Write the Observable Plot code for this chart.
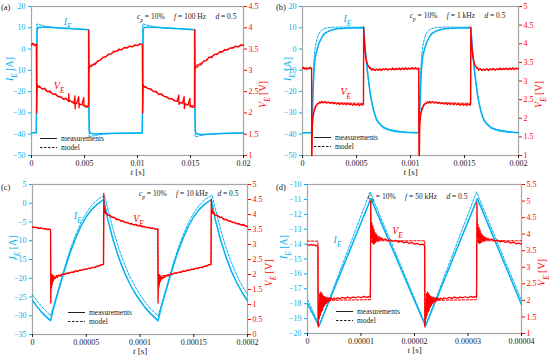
<!DOCTYPE html>
<html><head><meta charset="utf-8">
<script src="https://cdn.jsdelivr.net/npm/d3@7"></script>
<script src="https://cdn.jsdelivr.net/npm/@observablehq/plot@0.6"></script>
<style>
body{margin:0;background:#fff;}
#root{position:relative;width:550px;height:359px;font-family:"Liberation Serif","Times New Roman",serif;overflow:hidden;background:#fff}
#root svg, #root svg text{font-family:"Liberation Serif","Times New Roman",serif !important}
.panel{position:absolute}
.panel > svg{position:absolute;left:0;top:0}
.plabel{position:absolute;font-size:8.5px;color:#222;line-height:10px}
.leg{position:absolute;font-size:7.5px;line-height:9px;color:#222;white-space:nowrap}
.leg svg{margin-right:4px;display:block}
.leg div{height:9px;display:flex;align-items:center}
</style></head><body><div id="root"></div>
<script>
// ---------- tick labels ----------
const aXTicks=[0,0.005,0.01,0.015,0.02];
const bXTicks=[0,0.0005,0.001,0.0015,0.002];
const cXTicks=[0,0.00005,0.0001,0.00015,0.0002];
const dXTicks=[0,0.00001,0.00002,0.00003,0.00004];
const abITicks=[-50,-40,-30,-20,-10,0,10,20];
const cITicks=[-35,-30,-25,-20,-15,-10,-5,0,5];
const dITicks=[-20,-19,-18,-17,-16,-15,-14,-13,-12,-11,-10];
const aVTicks=[1,1.5,2,2.5,3,3.5,4,4.5];
const bVTicks=[1,1.5,2,2.5,3,3.5,4,4.5,5];
const cVTicks=[0,0.5,1,1.5,2,2.5,3,3.5,4,4.5,5];
const dVTicks=[1,1.5,2,2.5,3,3.5,4,4.5,5,5.5];

// ---------- panel (a): time in ms ----------
const aIMeas=[[0,-39.3],[0.44,-39.3],[0.47,-30],[0.5,-20],[0.53,8.5],[0.6,10.1],[1,10.3],[1.5,10.2],[2,10.1],[2.5,9.95],[3,9.8],[3.5,9.65],[4,9.5],[4.5,9.35],[5,9.2],[5.38,9.05],[5.42,-30],[5.46,-38.5],[5.55,-39.6],[6,-39.9],[6.5,-39.8],[7,-39.7],[8,-39.6],[9,-39.5],[10,-39.4],[10.44,-39.4],[10.47,-30],[10.5,-20],[10.53,8.5],[10.6,10.1],[11,10.3],[11.5,10.2],[12,10.1],[12.5,9.95],[13,9.8],[13.5,9.65],[14,9.5],[14.5,9.35],[15,9.2],[15.38,9.05],[15.42,-30],[15.46,-38.5],[15.55,-39.7],[16,-40.1],[16.5,-40],[17,-39.9],[18,-39.7],[19,-39.5],[20,-39.4]];
const aIModel=[[0,-39.3],[0.46,-39.3],[0.5,11.8],[0.8,11.4],[1.2,10.9],[1.6,10.5],[2,10.25],[3,9.9],[4,9.6],[5,9.3],[5.4,9.2],[5.44,-41.2],[5.8,-40.8],[6.3,-40.3],[7,-39.9],[8,-39.6],[9,-39.5],[10.46,-39.4],[10.5,11.8],[10.8,11.4],[11.2,10.9],[11.6,10.5],[12,10.25],[13,9.9],[14,9.6],[15,9.3],[15.4,9.2],[15.44,-41.2],[15.8,-40.8],[16.3,-40.3],[17,-39.9],[18,-39.6],[19,-39.5],[20,-39.4]];
const aVMeas=[[0,3.6],[0.15,3.64],[0.3,3.58],[0.45,3.62],[0.49,2.0],[0.51,2.3],[0.53,2.68],[0.6,2.62],[0.75,2.63],[1.0,2.56],[1.25,2.58],[1.5,2.5],[1.75,2.52],[2.0,2.44],[2.25,2.45],[2.5,2.38],[2.75,2.39],[3.0,2.32],[3.25,2.35],[3.5,2.27],[3.52,2.45],[3.55,2.28],[3.75,2.27],[4.0,2.22],[4.1,2.4],[4.12,2.1],[4.15,2.23],[4.25,2.22],[4.46,2.38],[4.48,2.12],[4.5,2.2],[4.75,2.19],[4.93,2.36],[4.95,2.16],[5.0,2.17],[5.2,2.13],[5.37,2.16],[5.4,3.95],[5.42,3.0],[5.45,3.09],[5.6,3.08],[5.8,3.13],[6.0,3.14],[6.25,3.22],[6.5,3.24],[6.75,3.31],[7.0,3.31],[7.25,3.38],[7.5,3.38],[7.75,3.45],[8.0,3.44],[8.25,3.5],[8.5,3.48],[8.75,3.54],[9.0,3.52],[9.25,3.57],[9.5,3.55],[9.75,3.6],[10.0,3.58],[10.25,3.63],[10.45,3.6],[10.49,2.0],[10.51,2.3],[10.53,2.67],[10.6,2.62],[10.75,2.62],[11.0,2.57],[11.25,2.57],[11.5,2.5],[11.75,2.51],[12.0,2.43],[12.25,2.45],[12.5,2.39],[12.75,2.38],[13.0,2.33],[13.25,2.34],[13.5,2.28],[13.75,2.29],[13.9,2.42],[13.92,2.2],[14.0,2.24],[14.25,2.23],[14.4,2.38],[14.42,2.1],[14.5,2.21],[14.75,2.18],[14.95,2.34],[14.97,2.14],[15.0,2.17],[15.2,2.13],[15.37,2.15],[15.4,3.95],[15.42,3.0],[15.45,3.08],[15.6,3.07],[15.8,3.13],[16.0,3.13],[16.25,3.22],[16.5,3.23],[16.75,3.31],[17.0,3.3],[17.25,3.38],[17.5,3.37],[17.75,3.44],[18.0,3.43],[18.25,3.49],[18.5,3.48],[18.75,3.53],[19.0,3.52],[19.25,3.57],[19.5,3.55],[19.75,3.6],[20,3.59]];
const aVModel=[[0,3.6],[0.48,3.61],[0.5,2.62],[1,2.57],[2,2.45],[3,2.34],[4,2.25],[5,2.18],[5.4,2.16],[5.42,3.1],[6,3.17],[7,3.33],[8,3.45],[9,3.54],[10,3.59],[10.48,3.61],[10.5,2.62],[11,2.57],[12,2.45],[13,2.34],[14,2.25],[15,2.18],[15.4,2.16],[15.42,3.1],[16,3.17],[17,3.33],[18,3.45],[19,3.54],[20,3.59]];

// ---------- panel (b): time in µs ----------
const bIMeas=[[0,-39.3],[84,-39.3],[88,-34],[95,-25],[102,-15],[109,-8.5],[120,-3.2],[133,-0.7],[148,2],[164,4],[182,5.8],[202,7.2],[230,8.1],[257,8.7],[290,9.2],[319,9.5],[400,9.8],[480,9.95],[566,10.0],[574,5],[582,-0.7],[590,-4.8],[597,-8.5],[605,-11.8],[612,-14.8],[620,-18],[628,-21],[643,-25.3],[659,-28.8],[675,-31.4],[690,-33.4],[720,-35.4],[752,-36.8],[800,-37.8],[845,-38.3],[910,-38.8],[968,-39.1],[1078,-39.3],[1082,-34],[1089,-25],[1096,-15],[1103,-8.5],[1114,-3.2],[1127,-0.7],[1142,2],[1158,4],[1176,5.8],[1196,7.2],[1224,8.1],[1251,8.7],[1284,9.2],[1313,9.5],[1394,9.8],[1474,9.95],[1558,10.0],[1566,5],[1574,-0.7],[1582,-4.8],[1589,-8.5],[1597,-11.8],[1604,-14.8],[1612,-18],[1620,-21],[1635,-25.3],[1651,-28.8],[1667,-31.4],[1682,-33.4],[1712,-35.4],[1744,-36.8],[1792,-37.8],[1837,-38.3],[1902,-38.8],[1960,-39.1],[2000,-39.2]];
const bIModel=[[0,-39.3],[84,-39.3],[88,-30],[95,-18],[102,-9],[109,-3.5],[120,1.5],[133,4.5],[148,6.8],[164,8.2],[182,9.1],[202,9.6],[230,10.0],[257,10.2],[320,10.3],[566,10.3],[574,5],[582,-1],[597,-9],[612,-15.5],[628,-21.8],[659,-29.5],[690,-34],[752,-37.3],[845,-38.8],[968,-39.3],[1078,-39.4],[1082,-30],[1089,-18],[1096,-9],[1103,-3.5],[1114,1.5],[1127,4.5],[1142,6.8],[1158,8.2],[1176,9.1],[1196,9.6],[1224,10.0],[1251,10.2],[1314,10.3],[1558,10.3],[1566,5],[1574,-1],[1589,-9],[1604,-15.5],[1620,-21.8],[1651,-29.5],[1682,-34],[1744,-37.3],[1837,-38.8],[1960,-39.3],[2000,-39.4]];
const bVMeas=[[0,3.34],[10,3.37],[20,3.32],[30,3.36],[40,3.31],[50,3.35],[60,3.33],[70,3.37],[80,3.33],[84,3.35],[85,1.0],[88,1.0],[92,1.8],[98,2.03],[105,2.15],[112,2.22],[118,2.27],[126,2.33],[134,2.36],[142,2.4],[150,2.39],[160,2.44],[170,2.41],[180,2.45],[195,2.42],[210,2.45],[225,2.41],[240,2.44],[255,2.4],[270,2.43],[285,2.39],[300,2.42],[315,2.38],[330,2.41],[345,2.37],[360,2.41],[375,2.37],[390,2.4],[405,2.36],[420,2.4],[435,2.36],[450,2.39],[465,2.35],[480,2.39],[495,2.35],[510,2.38],[525,2.34],[540,2.38],[555,2.35],[564,2.37],[566,4.45],[570,4.2],[575,3.95],[582,3.73],[590,3.58],[597,3.5],[605,3.42],[613,3.39],[620,3.34],[628,3.36],[640,3.29],[655,3.33],[670,3.28],[685,3.32],[700,3.29],[715,3.33],[730,3.28],[745,3.33],[760,3.3],[775,3.34],[790,3.29],[805,3.33],[820,3.3],[835,3.35],[850,3.3],[865,3.34],[880,3.31],[895,3.35],[910,3.3],[925,3.35],[940,3.31],[955,3.36],[970,3.31],[985,3.35],[1000,3.32],[1015,3.36],[1030,3.32],[1045,3.36],[1060,3.32],[1076,3.35],[1078,1.0],[1082,1.0],[1086,1.8],[1092,2.03],[1099,2.15],[1106,2.22],[1112,2.27],[1120,2.33],[1128,2.36],[1136,2.4],[1145,2.39],[1155,2.44],[1165,2.41],[1175,2.45],[1190,2.42],[1205,2.45],[1220,2.41],[1235,2.44],[1250,2.4],[1265,2.43],[1280,2.39],[1295,2.42],[1310,2.38],[1325,2.41],[1340,2.37],[1355,2.41],[1370,2.37],[1385,2.4],[1400,2.36],[1415,2.4],[1430,2.36],[1445,2.39],[1460,2.35],[1475,2.39],[1490,2.35],[1505,2.38],[1520,2.34],[1535,2.38],[1550,2.35],[1556,2.37],[1558,4.45],[1562,4.2],[1567,3.95],[1574,3.73],[1582,3.58],[1589,3.5],[1597,3.42],[1605,3.39],[1612,3.34],[1620,3.36],[1632,3.29],[1647,3.33],[1662,3.28],[1677,3.32],[1692,3.29],[1707,3.33],[1722,3.28],[1737,3.33],[1752,3.3],[1767,3.34],[1782,3.29],[1797,3.33],[1812,3.3],[1827,3.35],[1842,3.3],[1857,3.34],[1872,3.31],[1887,3.35],[1902,3.3],[1917,3.35],[1932,3.31],[1947,3.36],[1962,3.31],[1977,3.35],[1990,3.32],[2000,3.34]];
const bVModel=[[0,3.33],[84,3.33],[86,1.6],[95,2.05],[110,2.28],[130,2.38],[160,2.42],[566,2.4],[567,4.2],[580,3.75],[600,3.45],[630,3.33],[680,3.3],[1078,3.33],[1080,1.6],[1089,2.05],[1104,2.28],[1124,2.38],[1154,2.42],[1558,2.4],[1559,4.2],[1572,3.75],[1592,3.45],[1622,3.33],[1672,3.3],[2000,3.33]];

// ---------- panel (c): time in µs ----------
const cIMeas=[[0,-25.9],[4,-27.5],[8,-28.9],[12,-30.1],[16.8,-31.3],[20,-27.5],[25,-22.5],[30,-17.6],[35,-13.2],[40,-9.4],[45,-6.2],[50,-3.6],[55,-1.7],[60,-0.3],[66.3,1.0],[70,-4.3],[75,-9.8],[80,-14.3],[85,-18.1],[90,-21.2],[95,-23.8],[100,-26.0],[105,-27.9],[110,-29.5],[116.8,-31.3],[120,-27.5],[125,-22.5],[130,-17.6],[135,-13.2],[140,-9.4],[145,-6.2],[150,-3.6],[155,-1.7],[160,-0.3],[166.3,1.0],[170,-4.3],[175,-9.8],[180,-14.3],[185,-18.1],[190,-21.2],[195,-23.8],[200,-26.0]];
const cIModel=[[0,-24.4],[4,-26],[8,-27.4],[12,-28.6],[16.8,-30],[20,-27],[25,-22],[30,-17],[35,-12.4],[40,-8.6],[45,-5.2],[50,-2.6],[55,-0.6],[60,0.9],[67,2.1],[70,-1.5],[75,-7],[80,-11.8],[85,-15.8],[90,-19.2],[95,-22],[100,-24.4],[105,-26.4],[110,-28.2],[116.8,-30],[120,-27],[125,-22],[130,-17],[135,-12.4],[140,-8.6],[145,-5.2],[150,-2.6],[155,-0.6],[160,0.9],[167,2.1],[170,-1.5],[175,-7],[180,-11.8],[185,-15.8],[190,-19.2],[195,-22],[200,-24.4]];
const cVMeas=[[0,3.58],[2,3.56],[4,3.57],[6,3.54],[8,3.55],[10,3.52],[12,3.53],[14,3.5],[16,3.51],[16.8,3.49],[17,1.05],[17.3,1.9],[17.6,1.55],[17.9,2.0],[18.2,1.65],[18.5,1.98],[18.8,1.75],[19.1,1.95],[19.5,1.8],[20,1.92],[21,1.86],[22,1.93],[23,1.9],[24,1.96],[26,1.95],[28,2.01],[30,2.0],[32,2.05],[34,2.04],[36,2.08],[38,2.07],[40,2.12],[42,2.1],[44,2.15],[46,2.14],[48,2.18],[50,2.17],[52,2.21],[54,2.2],[56,2.24],[58,2.23],[60,2.28],[62,2.28],[64,2.33],[66,2.33],[66.3,4.7],[66.6,4.05],[66.9,4.25],[67.2,4.05],[67.6,4.15],[68,4.03],[69,4.05],[70,3.97],[72,3.98],[74,3.9],[76,3.91],[78,3.83],[80,3.84],[82,3.78],[84,3.79],[86,3.73],[88,3.74],[90,3.69],[92,3.7],[94,3.65],[96,3.67],[98,3.62],[100,3.63],[102,3.59],[104,3.6],[106,3.56],[108,3.57],[110,3.54],[112,3.55],[114,3.51],[116.5,3.52],[116.8,1.05],[117.1,1.9],[117.4,1.55],[117.7,2.0],[118,1.65],[118.3,1.98],[118.6,1.75],[118.9,1.95],[119.3,1.8],[120,1.92],[121,1.86],[122,1.93],[123,1.9],[124,1.96],[126,1.95],[128,2.01],[130,2.0],[132,2.05],[134,2.04],[136,2.08],[138,2.07],[140,2.12],[142,2.1],[144,2.15],[146,2.14],[148,2.18],[150,2.17],[152,2.21],[154,2.2],[156,2.24],[158,2.23],[160,2.28],[162,2.28],[164,2.33],[166,2.33],[166.3,4.5],[166.6,4.05],[166.9,4.2],[167.2,4.05],[167.6,4.13],[168,4.03],[169,4.05],[170,3.97],[172,3.98],[174,3.9],[176,3.91],[178,3.83],[180,3.84],[182,3.78],[184,3.79],[186,3.73],[188,3.74],[190,3.69],[192,3.7],[194,3.65],[196,3.67],[198,3.62],[200,3.6]];
const cVModel=[[0,3.58],[16.8,3.5],[17,1.9],[20,1.95],[30,2.02],[40,2.1],[50,2.18],[60,2.27],[66.2,2.34],[66.4,4.1],[70,3.98],[80,3.83],[90,3.7],[100,3.62],[110,3.55],[116.7,3.5],[116.9,1.9],[120,1.95],[130,2.02],[140,2.1],[150,2.18],[160,2.27],[166.2,2.34],[166.4,4.1],[170,3.98],[180,3.83],[190,3.7],[200,3.6]];

// ---------- panel (d): time in µs ----------
const dIMeas=[[0,-18.0],[2.15,-19.5],[11.85,-10.95],[22.05,-19.5],[31.75,-10.95],[40,-18.05]];
const dIModel=[[0,-17.7],[2.2,-19.45],[11.7,-10.5],[22.1,-19.45],[31.6,-10.5],[40,-17.8]];
const dVMeas=[[0,3.68],[0.3,3.66],[0.6,3.69],[0.9,3.67],[1.2,3.68],[1.5,3.65],[1.8,3.66],[1.95,3.62],[2.0,1.2],[2.1,1.75],[2.2,1.45],[2.3,2.2],[2.4,1.55],[2.5,2.25],[2.6,1.65],[2.7,2.2],[2.8,1.7],[2.9,2.15],[3.0,1.8],[3.1,2.12],[3.2,1.85],[3.35,2.1],[3.5,1.9],[3.65,2.1],[3.8,1.95],[4.0,2.08],[4.2,1.98],[4.4,2.08],[4.7,2.02],[5.0,2.07],[5.3,2.03],[5.6,2.08],[6,2.05],[6.5,2.09],[7,2.06],[7.5,2.1],[8,2.07],[8.5,2.1],[9,2.08],[9.5,2.11],[10,2.08],[10.5,2.12],[11,2.09],[11.5,2.12],[11.75,2.1],[11.82,5.0],[11.9,3.9],[12.0,4.35],[12.1,3.75],[12.2,4.25],[12.3,3.7],[12.4,4.15],[12.5,3.72],[12.6,4.05],[12.7,3.75],[12.85,4.0],[13.0,3.78],[13.15,3.95],[13.3,3.8],[13.5,3.92],[13.7,3.82],[13.9,3.88],[14.2,3.82],[14.5,3.86],[15,3.8],[15.5,3.83],[16,3.78],[16.5,3.81],[17,3.76],[17.5,3.79],[18,3.74],[18.5,3.77],[19,3.72],[19.5,3.75],[20,3.7],[20.5,3.72],[21,3.68],[21.5,3.7],[21.9,3.64],[21.95,1.2],[22.05,1.75],[22.15,1.45],[22.25,2.2],[22.35,1.55],[22.45,2.25],[22.55,1.65],[22.65,2.2],[22.75,1.7],[22.85,2.15],[22.95,1.8],[23.05,2.12],[23.15,1.85],[23.3,2.1],[23.45,1.9],[23.6,2.1],[23.75,1.95],[23.95,2.08],[24.15,1.98],[24.35,2.08],[24.65,2.02],[24.95,2.07],[25.25,2.03],[25.55,2.08],[26,2.05],[26.5,2.09],[27,2.06],[27.5,2.1],[28,2.07],[28.5,2.1],[29,2.08],[29.5,2.11],[30,2.08],[30.5,2.12],[31,2.09],[31.4,2.12],[31.6,2.1],[31.67,4.95],[31.75,3.9],[31.85,4.3],[31.95,3.75],[32.05,4.2],[32.15,3.72],[32.25,4.12],[32.35,3.74],[32.45,4.03],[32.55,3.76],[32.7,3.98],[32.85,3.79],[33,3.93],[33.15,3.8],[33.35,3.9],[33.55,3.82],[33.75,3.87],[34.05,3.82],[34.35,3.85],[35,3.8],[35.5,3.82],[36,3.77],[36.5,3.8],[37,3.75],[37.5,3.78],[38,3.73],[38.5,3.76],[39,3.71],[39.5,3.73],[40,3.7]];
const dVModel=[[0,3.79],[1.95,3.79],[2.0,1.25],[2.3,2.0],[11.75,2.02],[11.8,3.8],[21.9,3.8],[21.95,1.25],[22.25,2.0],[31.6,2.02],[31.65,3.8],[40,3.8]];

// ---------- drawing ----------
const BLUE="#00B0F0", RED="#FF0000", FRAME="#A6A6A6", INK="#222";
const FF="Liberation Serif";
const root=document.getElementById("root");
const signed=d=>d<0?"\u2212"+(-d):String(d);

function rich(svg){
  for(const t of svg.querySelectorAll("text")){
    const s=t.textContent;
    if(!/[~_]/.test(s)) continue;
    while(t.firstChild) t.removeChild(t.firstChild);
    let buf="";
    const flush=()=>{if(buf){t.appendChild(document.createTextNode(buf));buf="";}};
    for(let k=0;k<s.length;k++){
      const c=s[k];
      if(c==="~"||c==="_"){
        flush();
        const ts=document.createElementNS("http://www.w3.org/2000/svg","tspan");
        ts.setAttribute("font-style","italic");
        if(c==="_"){ts.setAttribute("baseline-shift","sub");ts.setAttribute("font-size","72%");}
        ts.textContent=s[++k];
        t.appendChild(ts);
      } else buf+=c;
    }
    flush();
  }
}

function panel(c){
  const div=document.createElement("div");
  div.className="panel";
  Object.assign(div.style,{left:c.left+"px",top:c.top+"px",width:c.w+"px",height:c.h+"px"});
  root.appendChild(div);
  const common={width:c.w,height:c.h,marginLeft:c.m[0],marginRight:c.m[1],marginTop:c.m[2],marginBottom:c.m[3],
    style:"font-family:'Liberation Serif',serif;font-size:8px;background:transparent;overflow:visible"};
  const X=d=>d[0]*c.unit, Y=d=>d[1];
  const pI=Plot.plot({...common,
    x:{domain:c.xDomain}, y:{domain:c.iDomain},
    marks:[
      Plot.frame({stroke:FRAME,strokeWidth:1.2}),
      Plot.axisY({ticks:c.iTicks,tickFormat:signed,tickSize:3,tickPadding:3,color:BLUE,label:null,fontSize:8,fontFamily:FF}),
      Plot.axisX({ticks:c.xTicks,tickFormat:d=>String(d),tickSize:3,tickPadding:1.5,color:INK,label:null,fontSize:8,fontFamily:FF}),
      Plot.line(c.iModel,{x:X,y:Y,stroke:BLUE,strokeWidth:1,strokeDasharray:"2.5,1.5"}),
      Plot.line(c.iMeas,{x:X,y:Y,stroke:BLUE,strokeWidth:1.5}),
      Plot.text(["~I_E [A]"],{frameAnchor:"left",dx:c.tdx[0],rotate:-90,fill:BLUE,fontSize:10,fontFamily:FF}),
      Plot.text(["~t [s]"],{frameAnchor:"bottom",dy:c.tdy,fill:INK,fontSize:9,fontFamily:FF}),
      Plot.text(["~I_E"],{x:c.iLab[0],y:c.iLab[1],fill:BLUE,fontSize:10,fontFamily:FF}),
      Plot.text([c.ann],{frameAnchor:"top-right",textAnchor:"end",dx:c.annD[0],dy:c.annD[1],fill:INK,fontSize:7.5,fontFamily:FF})
    ]});
  const pV=Plot.plot({...common,
    x:{domain:c.xDomain,axis:null}, y:{domain:c.vDomain},
    marks:[
      Plot.axisY({anchor:"right",ticks:c.vTicks,tickFormat:d=>String(d),tickSize:3,tickPadding:2,color:RED,label:null,fontSize:8,fontFamily:FF}),
      Plot.line(c.vModel,{x:X,y:Y,stroke:RED,strokeWidth:1,strokeDasharray:"2.5,1.5"}),
      Plot.line(c.vMeas,{x:X,y:Y,stroke:RED,strokeWidth:1.3}),
      Plot.text(["~V_E [V]"],{frameAnchor:"right",dx:c.tdx[1],rotate:-90,fill:RED,fontSize:10,fontFamily:FF}),
      Plot.text(["~V_E"],{x:c.vLab[0],y:c.vLab[1],fill:RED,fontSize:10,fontFamily:FF})
    ]});
  rich(pI); rich(pV);
  div.appendChild(pI); div.appendChild(pV);
  const lab=document.createElement("div");
  lab.className="plabel"; lab.textContent=c.label;
  lab.style.left=c.labPos[0]+"px"; lab.style.top=c.labPos[1]+"px";
  div.appendChild(lab);
  const leg=document.createElement("div");
  leg.className="leg"; leg.style.left=c.legPos[0]+"px"; leg.style.top=c.legPos[1]+"px";
  leg.innerHTML='<div><svg width="17" height="9"><line x1="0" x2="17" y1="4.5" y2="4.5" stroke="#222" stroke-width="1"/></svg>measurements</div>'+
                '<div><svg width="17" height="9"><line x1="0" x2="17" y1="4.5" y2="4.5" stroke="#222" stroke-width="1" stroke-dasharray="2.5,1.5"/></svg>model</div>';
  div.appendChild(leg);
}

panel({left:0,top:0,w:275,h:180,m:[31,32,6,25],unit:1e-3,xDomain:[0,0.02],xTicks:aXTicks,
  iDomain:[-50,20],iTicks:abITicks,vDomain:[1,4.5],vTicks:aVTicks,
  iMeas:aIMeas,iModel:aIModel,vMeas:aVMeas,vModel:aVModel,
  tdx:[-22,19],tdy:19,iLab:[0.0034,13],vLab:[0.0026,2.64],
  ann:"~c_p = 10%\u2003 ~f = 100 Hz\u2003 ~d = 0.5",annD:[-7,7],
  label:"(a)",labPos:[1,2],legPos:[40,134]});
panel({left:275,top:0,w:275,h:180,m:[27,32,6,25],unit:1e-6,xDomain:[0,0.002],xTicks:bXTicks,
  iDomain:[-50,20],iTicks:abITicks,vDomain:[1,5],vTicks:bVTicks,
  iMeas:bIMeas,iModel:bIModel,vMeas:bVMeas,vModel:bVModel,
  tdx:[-15,20],tdy:19,iLab:[0.000415,14.2],vLab:[0.0004,2.7],
  ann:"~c_p = 10%\u2003 ~f = 1 kHz\u2003 ~d = 0.5",annD:[-13,6],
  label:"(b)",labPos:[1,2],legPos:[39,133]});
panel({left:0,top:180,w:275,h:179,m:[32,28,4,25],unit:1e-6,xDomain:[0,0.0002],xTicks:cXTicks,
  iDomain:[-35,5],iTicks:cITicks,vDomain:[0,5],vTicks:cVTicks,
  iMeas:cIMeas,iModel:cIModel,vMeas:cVMeas,vModel:cVModel,
  tdx:[-20,21],tdy:19.5,iLab:[0.0000419,-3.3],vLab:[0.0000985,3.85],
  ann:"~c_p = 10%\u2003 ~f = 10 kHz\u2003 ~d = 0.5",annD:[-9,6],
  label:"(c)",labPos:[1,2],legPos:[68,128]});
panel({left:275,top:180,w:275,h:179,m:[32,29,4,26],unit:1e-6,xDomain:[0,0.00004],xTicks:dXTicks,
  iDomain:[-20,-10],iTicks:dITicks,vDomain:[1,5.5],vTicks:dVTicks,
  iMeas:dIMeas,iModel:dIModel,vMeas:dVMeas,vModel:dVModel,
  tdx:[-24,20],tdy:19,iLab:[0.0000056,-13.74],vLab:[0.0000168,4.1],
  ann:"~c_p = 10%\u2003 ~f = 50 kHz\u2003 ~d = 0.5",annD:[-54,9],
  label:"(d)",labPos:[1,2],legPos:[61,127]});
</script></body></html>
